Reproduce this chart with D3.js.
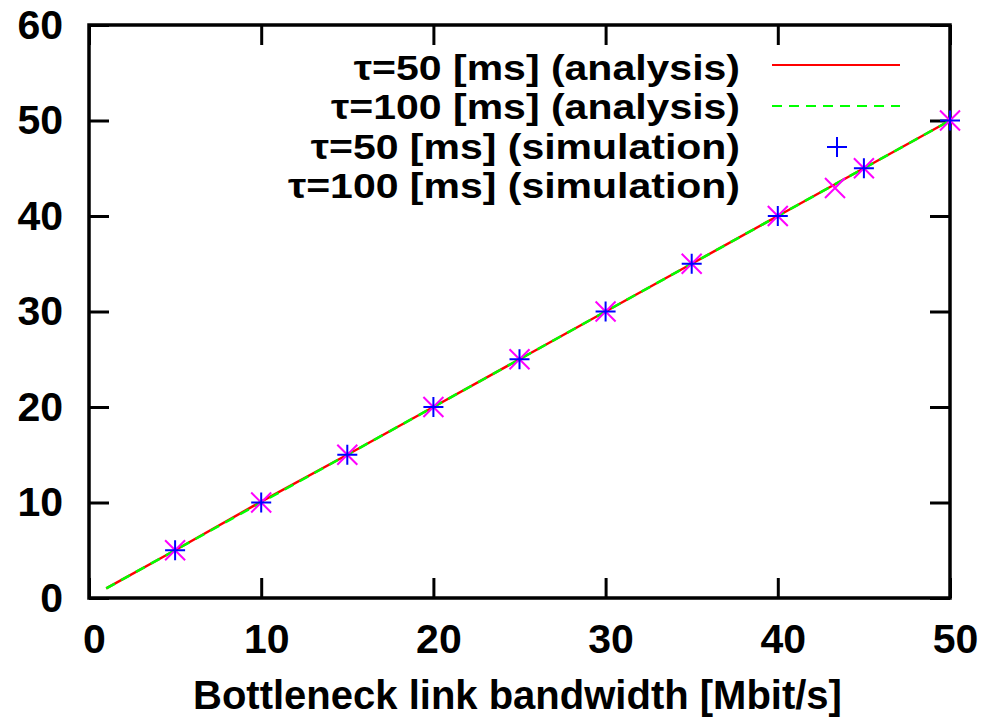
<!DOCTYPE html>
<html>
<head>
<meta charset="utf-8">
<script src="https://cdn.jsdelivr.net/npm/d3@7"></script>
<style>
  body { margin: 0; background: #fff; }
  svg text { font-family: "Liberation Sans", Arial, sans-serif; font-weight: bold; fill: #000; }
</style>
</head>
<body>
<div id="chart"></div>
<script>
// analysis curves (tau = 50 ms and tau = 100 ms)
var analysisX = [1, 5, 10, 15, 20, 25, 30, 35, 40, 45, 50];
var analysis50 = [1, 5, 10.1, 15, 20, 25, 30, 35, 40, 45, 50];
var analysis100 = [1, 5, 10, 15, 20, 25, 30, 35, 40, 45, 50];

// simulation points
var simX = [5, 10, 15, 20, 25, 30, 35, 40, 45, 50];
var sim50 = [5, 10, 15, 20, 25, 30, 35, 40, 45, 50];
var sim100 = [5, 10, 15, 20, 25, 30, 35, 40, 45, 50];

var xTicks = [0, 10, 20, 30, 40, 50];
var yTicks = [0, 10, 20, 30, 40, 50, 60];

var legendLabels = [
    "\u03c4=50 [ms] (analysis)",
    "\u03c4=100 [ms] (analysis)",
    "\u03c4=50 [ms] (simulation)",
    "\u03c4=100 [ms] (simulation)"
];

var margin = { left: 89, right: 35, top: 25, bottom: 125 };
var width = 985 - margin.left - margin.right;
var height = 723 - margin.top - margin.bottom;

var svg = d3.select("#chart")
    .append("svg")
    .attr("width", 985)
    .attr("height", 723);

var g = svg.append("g")
    .attr("transform", "translate(" + margin.left + "," + margin.top + ")");

// Scales
var x = d3.scaleLinear().domain([0, 50]).range([0, width]);
var y = d3.scaleLinear().domain([0, 60]).range([height, 0]);

// Axes (ticks pointing inward)
var xAxis = g.append("g")
    .attr("transform", "translate(0," + height + ")")
    .call(d3.axisBottom(x).tickValues(xTicks).tickSizeInner(-20).tickSizeOuter(0).tickPadding(26));
var yAxis = g.append("g")
    .call(d3.axisLeft(y).tickValues(yTicks).tickSizeInner(-20).tickSizeOuter(0).tickPadding(26));
var xTop = g.append("g")
    .call(d3.axisTop(x).tickValues(xTicks).tickSizeInner(-20).tickSizeOuter(0).tickFormat(""));
var yRight = g.append("g")
    .attr("transform", "translate(" + width + ",0)")
    .call(d3.axisRight(y).tickValues(yTicks).tickSizeInner(-20).tickSizeOuter(0).tickFormat(""));

[xAxis, yAxis, xTop, yRight].forEach(function(a){
    a.select(".domain").remove();
    a.selectAll(".tick line").attr("stroke", "#000").attr("stroke-width", 3);
    a.selectAll(".tick text").attr("font-size", "41px").attr("fill", "#000");
});
xAxis.selectAll(".tick text").attr("dx", 5);

// Frame
g.append("rect")
    .attr("width", width)
    .attr("height", height)
    .attr("fill", "none")
    .attr("stroke", "#000")
    .attr("stroke-width", 3.5);

// X label
g.append("text")
    .attr("x", width / 2 - 2)
    .attr("y", height + 111)
    .attr("text-anchor", "middle")
    .attr("font-size", "40px")
    .text("Bottleneck link bandwidth [Mbit/s]");

// Lines
var line = d3.line()
    .x(function(d, i){ return x(analysisX[i]); })
    .y(function(d){ return y(d); });

g.append("path")
    .attr("fill", "none")
    .attr("stroke", "#ff0000")
    .attr("stroke-width", 2.5)
    .attr("d", line(analysis50));
g.append("path")
    .attr("fill", "none")
    .attr("stroke", "#00ff00")
    .attr("stroke-width", 2.5)
    .attr("stroke-dasharray", "10,7")
    .attr("d", line(analysis100));

// Point markers
function plus(sel, cx, cy){
    sel.append("path")
        .attr("d", "M" + (cx - 10) + "," + cy + "H" + (cx + 10) + "M" + cx + "," + (cy - 10) + "V" + (cy + 10))
        .attr("stroke", "#0000ff")
        .attr("stroke-width", 2)
        .attr("fill", "none");
}
function cross(sel, cx, cy){
    sel.append("path")
        .attr("d", "M" + (cx - 10) + "," + (cy - 10) + "L" + (cx + 10) + "," + (cy + 10) +
            "M" + (cx - 10) + "," + (cy + 10) + "L" + (cx + 10) + "," + (cy - 10))
        .attr("stroke", "#ff00ff")
        .attr("stroke-width", 2)
        .attr("fill", "none");
}

var pts = g.append("g");
sim100.forEach(function(d, i){ cross(pts, x(simX[i]), y(d)); });
sim50.forEach(function(d, i){ plus(pts, x(simX[i]), y(d)); });

// Legend
var legend = svg.append("g");
var rowY = [67, 106, 146, 185];
legendLabels.forEach(function(t, i){
    legend.append("text")
        .attr("transform", "translate(740," + rowY[i] + ") scale(1,0.85)")
        .attr("dy", "0.36em")
        .attr("text-anchor", "end")
        .attr("font-size", "41px")
        .text(t);
});
legend.append("line")
    .attr("x1", 772).attr("x2", 900)
    .attr("y1", 65).attr("y2", 65)
    .attr("stroke", "#ff0000").attr("stroke-width", 2);
legend.append("line")
    .attr("x1", 772).attr("x2", 900)
    .attr("y1", 106).attr("y2", 106)
    .attr("stroke", "#00ff00").attr("stroke-width", 2)
    .attr("stroke-dasharray", "10,7");
plus(legend, 837, 147);
cross(legend, 835, 188);
</script>
</body>
</html>
